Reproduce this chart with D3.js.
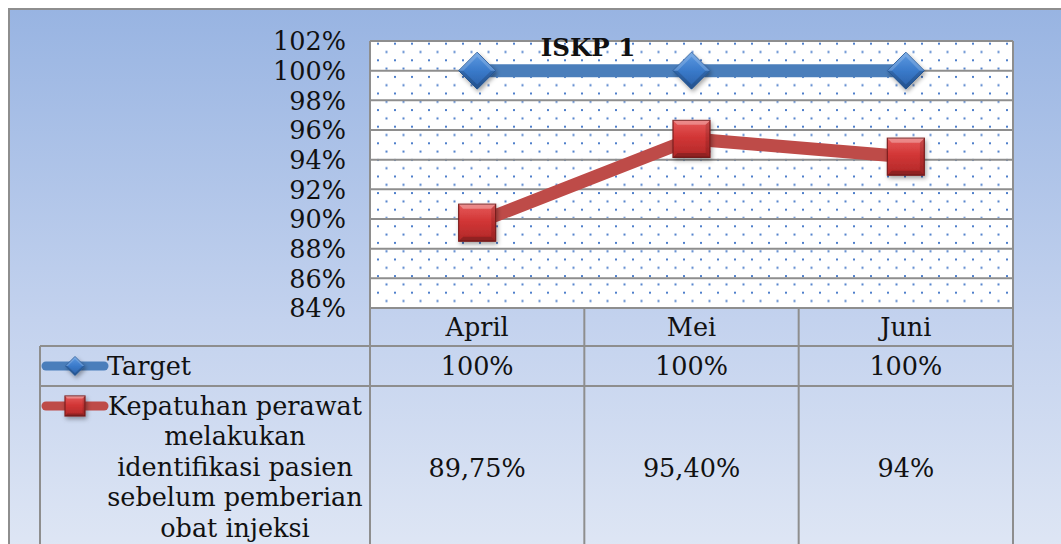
<!DOCTYPE html>
<html>
<head>
<meta charset="utf-8">
<script src="https://cdn.jsdelivr.net/npm/d3@7"></script>
<style>
  html, body { margin: 0; padding: 0; background: #ffffff; overflow: hidden; }
  svg { display: block; }
  text { font-family: "DejaVu Serif", "Liberation Serif", serif; fill: #111; }
</style>
</head>
<body>
<svg id="chart" width="1061" height="544"></svg>
<script>
// ---- data ----
const chartTitle = "ISKP 1";
const categories = ["April", "Mei", "Juni"];
const seriesNames = ["Target", "Kepatuhan perawat melakukan identifikasi pasien sebelum pemberian obat injeksi"];
const seriesNameLines = [["Target"], ["Kepatuhan perawat", "melakukan", "identifikasi pasien", "sebelum pemberian", "obat injeksi"]];
const targetValues = [100, 100, 100];
const kepatuhanValues = [89.75, 95.40, 94.2];
const targetLabels = ["100%", "100%", "100%"];
const kepatuhanLabels = ["89,75%", "95,40%", "94%"];
const yTickValues = [84, 86, 88, 90, 92, 94, 96, 98, 100, 102];
const yTickLabels = ["84%", "86%", "88%", "90%", "92%", "94%", "96%", "98%", "100%", "102%"];

// ---- layout ----
const W = 1061, H = 544;
const plot = { left: 370, right: 1013, top: 41, bottom: 308 };
const table = { legendLeft: 40, headerBottom: 346, row1Bottom: 386 };
const gridColor = "#8e8e8e";
const fs = 25.5;

const svg = d3.select("#chart");
const defs = svg.append("defs");

// background gradient
const bg = defs.append("linearGradient").attr("id", "bgGrad").attr("x1", 0).attr("y1", 0).attr("x2", 0).attr("y2", 1);
bg.append("stop").attr("offset", "0%").attr("stop-color", "#98B4E2");
bg.append("stop").attr("offset", "55%").attr("stop-color", "#C3D2EE");
bg.append("stop").attr("offset", "100%").attr("stop-color", "#E1E8F5");

// dot pattern
const pat = defs.append("pattern").attr("id", "dots").attr("patternUnits", "userSpaceOnUse")
  .attr("x", plot.left + 7).attr("y", plot.top + 1.7).attr("width", 17).attr("height", 16.6);
pat.append("rect").attr("width", 17).attr("height", 16.6).attr("fill", "#ffffff");
pat.append("rect").attr("x", 0).attr("y", 0).attr("width", 2).attr("height", 2).attr("fill", "#4F7FCB");
pat.append("rect").attr("x", 8.5).attr("y", 8.3).attr("width", 2).attr("height", 2).attr("fill", "#4F7FCB");

// marker gradients
const dg = defs.append("linearGradient").attr("id", "diamGrad").attr("x1", 0).attr("y1", 0).attr("x2", 0).attr("y2", 1);
dg.append("stop").attr("offset", "0%").attr("stop-color", "#5F9BE2");
dg.append("stop").attr("offset", "50%").attr("stop-color", "#3A7ACA");
dg.append("stop").attr("offset", "100%").attr("stop-color", "#2A5FA6");
const sg = defs.append("linearGradient").attr("id", "sqGrad").attr("x1", 0).attr("y1", 0).attr("x2", 0).attr("y2", 1);
sg.append("stop").attr("offset", "0%").attr("stop-color", "#E65A5A");
sg.append("stop").attr("offset", "45%").attr("stop-color", "#D23636");
sg.append("stop").attr("offset", "100%").attr("stop-color", "#B02828");

const shadow = defs.append("filter").attr("id", "shadow").attr("x", "-30%").attr("y", "-30%").attr("width", "170%").attr("height", "170%");
shadow.append("feDropShadow").attr("dx", 1.5).attr("dy", 2.5).attr("stdDeviation", 2).attr("flood-color", "#000").attr("flood-opacity", 0.35);

// frame
svg.append("rect").attr("x", 9).attr("y", 9).attr("width", W + 20).attr("height", H + 20)
  .attr("fill", "url(#bgGrad)").attr("stroke", gridColor).attr("stroke-width", 2);

// scales
const x = d3.scaleBand().domain(categories).range([plot.left, plot.right]).padding(0);
const y = d3.scaleLinear().domain([84, 102]).range([plot.bottom, plot.top]);
const cx = c => x(c) + x.bandwidth() / 2;

// plot area
svg.append("rect").attr("x", plot.left).attr("y", plot.top).attr("width", plot.right - plot.left)
  .attr("height", plot.bottom - plot.top).attr("fill", "url(#dots)");

// gridlines
svg.append("g").selectAll("line").data(yTickValues).join("line")
  .attr("x1", plot.left).attr("x2", plot.right)
  .attr("y1", d => y(d)).attr("y2", d => y(d))
  .attr("stroke", gridColor).attr("stroke-width", 2);

// y axis labels
const yAxis = d3.axisLeft(y).tickValues(yTickValues).tickSize(0).tickPadding(0)
  .tickFormat((d, i) => yTickLabels[i]);
const ya = svg.append("g").attr("transform", `translate(${plot.left - 24},0)`).call(yAxis);
ya.select(".domain").remove();
ya.selectAll("text").attr("font-family", "DejaVu Serif").attr("font-size", fs).attr("fill", "#111").attr("dy", "0.34em");

// title
svg.append("text").attr("x", 588).attr("y", 56).attr("text-anchor", "middle")
  .attr("font-size", 24.5).attr("font-weight", "bold").text(chartTitle);

// lines
const line = d3.line().x((d, i) => cx(categories[i])).y(d => y(d));
svg.append("path").datum(targetValues).attr("d", line).attr("fill", "none")
  .attr("stroke", "#4A7EBB").attr("stroke-width", 13);
svg.append("path").datum(kepatuhanValues).attr("d", line).attr("fill", "none")
  .attr("stroke", "#BE4B48").attr("stroke-width", 13);

function diamond(g, px, py, r) {
  const grp = g.append("g").attr("transform", `translate(${px},${py})`).attr("filter", "url(#shadow)");
  grp.append("path").attr("d", `M0,${-r}L${r},0L0,${r}L${-r},0Z`).attr("fill", "url(#diamGrad)")
    .attr("stroke", "#2B5E9E").attr("stroke-width", 1);
  const k = r * 0.25;
  grp.append("path").attr("d", `M0,${-r}L${r},0L${r - k},0L0,${-r + k}L${-r + k},0L${-r},0Z`).attr("fill", "#ffffff").attr("opacity", 0.18);
  grp.append("path").attr("d", `M0,${r}L${r},0L${r - k},0L0,${r - k}L${-r + k},0L${-r},0Z`).attr("fill", "#000").attr("opacity", 0.15);
}
function square(g, px, py, s) {
  const h = s / 2;
  const grp = g.append("g").attr("transform", `translate(${px},${py})`).attr("filter", "url(#shadow)");
  grp.append("rect").attr("x", -h).attr("y", -h).attr("width", s).attr("height", s)
    .attr("fill", "url(#sqGrad)").attr("stroke", "#7E1E1E").attr("stroke-width", 1.2);
  const k = s * 0.12;
  grp.append("path").attr("d", `M${-h},${-h}L${h},${-h}L${h - k},${-h + k}L${-h + k},${-h + k}Z`).attr("fill", "#fff").attr("opacity", 0.3);
  grp.append("path").attr("d", `M${-h},${h}L${h},${h}L${h - k},${h - k}L${-h + k},${h - k}Z`).attr("fill", "#000").attr("opacity", 0.2);
  grp.append("path").attr("d", `M${h},${-h}L${h},${h}L${h - k},${h - k}L${h - k},${-h + k}Z`).attr("fill", "#000").attr("opacity", 0.12);
}
const mk = svg.append("g");
targetValues.forEach((v, i) => diamond(mk, cx(categories[i]), y(v), 18.5));
kepatuhanValues.forEach((v, i) => square(mk, cx(categories[i]), y(v), 37));

// ---- data table ----
const tg = svg.append("g").attr("stroke", gridColor).attr("stroke-width", 2);
tg.append("line").attr("x1", plot.left).attr("x2", plot.right).attr("y1", plot.bottom).attr("y2", plot.bottom);
tg.append("line").attr("x1", table.legendLeft).attr("x2", plot.right).attr("y1", table.headerBottom).attr("y2", table.headerBottom);
tg.append("line").attr("x1", table.legendLeft).attr("x2", plot.right).attr("y1", table.row1Bottom).attr("y2", table.row1Bottom);
const colEdges = categories.map(c => x(c)).concat([plot.right]);
tg.selectAll("line.v").data(colEdges).join("line").attr("class", "v")
  .attr("x1", d => d).attr("x2", d => d).attr("y1", (d, i) => i === 0 ? plot.top : plot.bottom).attr("y2", H + 10);
tg.append("line").attr("x1", table.legendLeft).attr("x2", table.legendLeft).attr("y1", table.headerBottom).attr("y2", H + 10);
tg.append("line").attr("x1", plot.right).attr("x2", plot.right).attr("y1", plot.top).attr("y2", plot.bottom);

// header
svg.append("g").selectAll("text").data(categories).join("text")
  .attr("x", d => cx(d)).attr("y", (plot.bottom + table.headerBottom) / 2).attr("dy", "0.35em")
  .attr("text-anchor", "middle").attr("font-size", fs).text(d => d);
// target row
const r1 = (table.headerBottom + table.row1Bottom) / 2;
svg.append("g").selectAll("text").data(targetLabels).join("text")
  .attr("x", (d, i) => cx(categories[i])).attr("y", r1).attr("dy", "0.35em")
  .attr("text-anchor", "middle").attr("font-size", fs).text(d => d);
// kepatuhan row
const r2 = 468;
svg.append("g").selectAll("text").data(kepatuhanLabels).join("text")
  .attr("x", (d, i) => cx(categories[i])).attr("y", r2).attr("dy", "0.35em")
  .attr("text-anchor", "middle").attr("font-size", fs).text(d => d);

// legend keys
const keyX1 = 46, keyX2 = 104, keyMid = 75;
svg.append("line").attr("x1", keyX1).attr("x2", keyX2).attr("y1", r1).attr("y2", r1)
  .attr("stroke", "#4A7EBB").attr("stroke-width", 9).attr("stroke-linecap", "round");
diamond(svg, keyMid, r1, 9.5);
const r2First = 406;
svg.append("line").attr("x1", keyX1).attr("x2", keyX2).attr("y1", r2First).attr("y2", r2First)
  .attr("stroke", "#BE4B48").attr("stroke-width", 9).attr("stroke-linecap", "round");
square(svg, keyMid, r2First, 20);

// legend texts
svg.append("text").attr("x", 107).attr("y", r1).attr("dy", "0.35em").attr("font-size", fs).text(seriesNameLines[0][0]);
svg.append("g").selectAll("text").data(seriesNameLines[1]).join("text")
  .attr("x", 235).attr("y", (d, i) => r2First + i * 30.4).attr("dy", "0.35em")
  .attr("text-anchor", "middle").attr("font-size", fs).text(d => d);
</script>
</body>
</html>
